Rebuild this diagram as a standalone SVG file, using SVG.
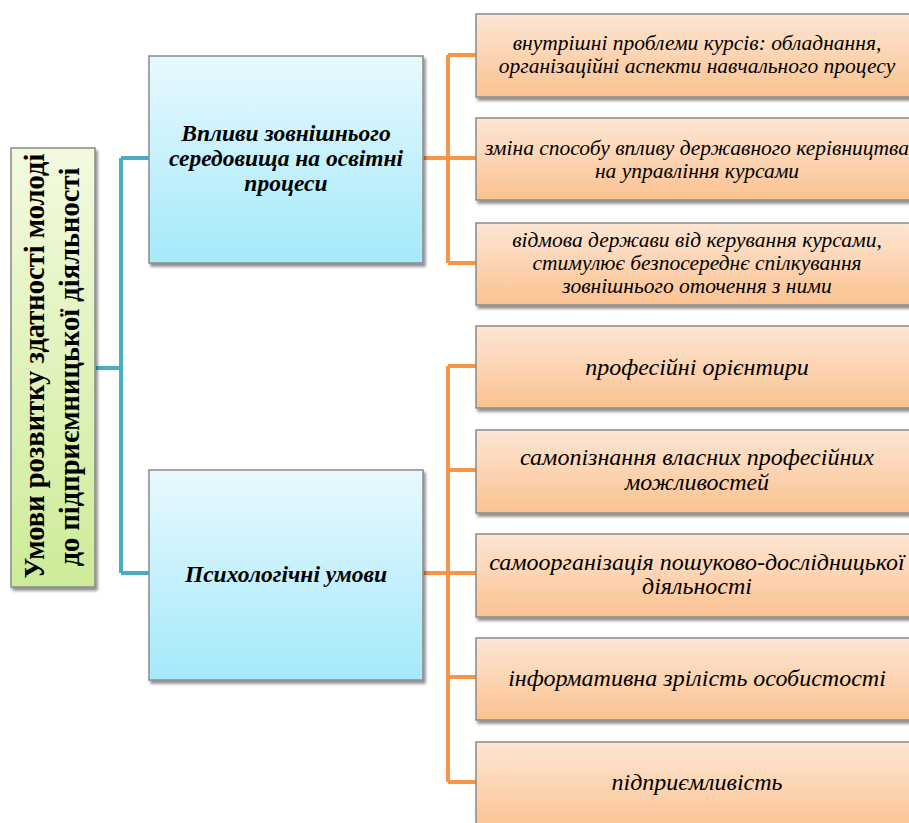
<svg xmlns="http://www.w3.org/2000/svg" width="909" height="823" viewBox="0 0 909 823">
<defs>
<linearGradient id="gGreen" x1="0" y1="0" x2="0" y2="1">
<stop offset="0" stop-color="#f3fadf"/>
<stop offset="1" stop-color="#cdec98"/>
</linearGradient>
<linearGradient id="gBlue" x1="0" y1="0" x2="0" y2="1">
<stop offset="0" stop-color="#e8f9fe"/>
<stop offset="1" stop-color="#a4e9fa"/>
</linearGradient>
<linearGradient id="gOrange" x1="0" y1="0" x2="0" y2="1">
<stop offset="0" stop-color="#fde6d3"/>
<stop offset="1" stop-color="#fbc291"/>
</linearGradient>
<filter id="sh" x="-10%" y="-10%" width="130%" height="130%">
<feGaussianBlur in="SourceAlpha" stdDeviation="1.5"/>
<feOffset dx="1.5" dy="2.5" result="o"/>
<feComponentTransfer><feFuncA type="linear" slope="0.45"/></feComponentTransfer>
<feMerge><feMergeNode/><feMergeNode in="SourceGraphic"/></feMerge>
</filter>
</defs>
<style>
.box{stroke:#8a8a8a;stroke-width:1.5;filter:url(#sh)}
.root{fill:url(#gGreen)}
.blue{fill:url(#gBlue)}
.orange{fill:url(#gOrange)}
.rt{font-family:"Liberation Serif","Times New Roman",serif;font-weight:bold;font-size:28.5px;fill:#000;text-anchor:middle}
.bt{font-family:"Liberation Serif","Times New Roman",serif;font-weight:bold;font-style:italic;font-size:23.5px;fill:#000;text-anchor:middle}
.ot{font-family:"Liberation Serif","Times New Roman",serif;font-style:italic;font-size:21.5px;fill:#000;text-anchor:middle}
.ot2{font-family:"Liberation Serif","Times New Roman",serif;font-style:italic;font-size:24px;fill:#000;text-anchor:middle}
.cb{fill:none;stroke:#4bacc6;stroke-width:4}
.co{fill:none;stroke:#f79646;stroke-width:4}
</style>
<g id="connectors">
<path class="cb" d="M96 368 H121 M121 158 V573 M121 158 H150 M121 573 H150"/>
<path class="co" d="M423 158 H448 M448 55 V263 M448 55 H476 M448 158 H476 M448 263 H476"/>
<path class="co" d="M423 573 H448 M448 366 V782 M448 366 H476 M448 470 H476 M448 573 H476 M448 677 H476 M448 782 H476"/>
</g>
<g id="root">
<rect class="box root" x="11" y="148" width="84" height="439"/>
<text class="rt" transform="translate(44,366) rotate(-90)">Умови розвитку здатності молоді</text>
<text class="rt" transform="translate(79,367) rotate(-90)">до підприємницької діяльності</text>
</g>
<g id="external">
<rect class="box blue" x="149" y="56" width="274" height="207"/>
<text class="bt" x="286" y="141">Впливи зовнішнього</text>
<text class="bt" x="286" y="166">середовища на освітні</text>
<text class="bt" x="286" y="191">процеси</text>
</g>
<g id="psych">
<rect class="box blue" x="149" y="470" width="274" height="210"/>
<text class="bt" x="286" y="582">Психологічні умови</text>
</g>
<g id="o1">
<rect class="box orange" x="476" y="14" width="442" height="83"/>
<text class="ot" x="697" y="50">внутрішні проблеми курсів: обладнання,</text>
<text class="ot" x="697" y="73">організаційні аспекти навчального процесу</text>
</g>
<g id="o2">
<rect class="box orange" x="476" y="118" width="442" height="82"/>
<text class="ot" x="697" y="155">зміна способу впливу державного керівництва</text>
<text class="ot" x="697" y="178">на управління курсами</text>
</g>
<g id="o3">
<rect class="box orange" x="476" y="223" width="442" height="82"/>
<text class="ot" x="697" y="247">відмова держави від керування курсами,</text>
<text class="ot" x="697" y="270">стимулює безпосереднє спілкування</text>
<text class="ot" x="697" y="293">зовнішнього оточення з ними</text>
</g>
<g id="o4">
<rect class="box orange" x="476" y="326" width="442" height="82"/>
<text class="ot2" x="697" y="375">професійні орієнтири</text>
</g>
<g id="o5">
<rect class="box orange" x="476" y="430" width="442" height="83"/>
<text class="ot2" x="697" y="465">самопізнання власних професійних</text>
<text class="ot2" x="697" y="490">можливостей</text>
</g>
<g id="o6">
<rect class="box orange" x="476" y="534" width="442" height="83"/>
<text class="ot2" x="697" y="570">самоорганізація пошуково-дослідницької</text>
<text class="ot2" x="697" y="594">діяльності</text>
</g>
<g id="o7">
<rect class="box orange" x="476" y="638" width="442" height="82"/>
<text class="ot2" x="697" y="686">інформативна зрілість особистості</text>
</g>
<g id="o8">
<rect class="box orange" x="476" y="742" width="442" height="90"/>
<text class="ot2" x="697" y="790">підприємливість</text>
</g>
</svg>
